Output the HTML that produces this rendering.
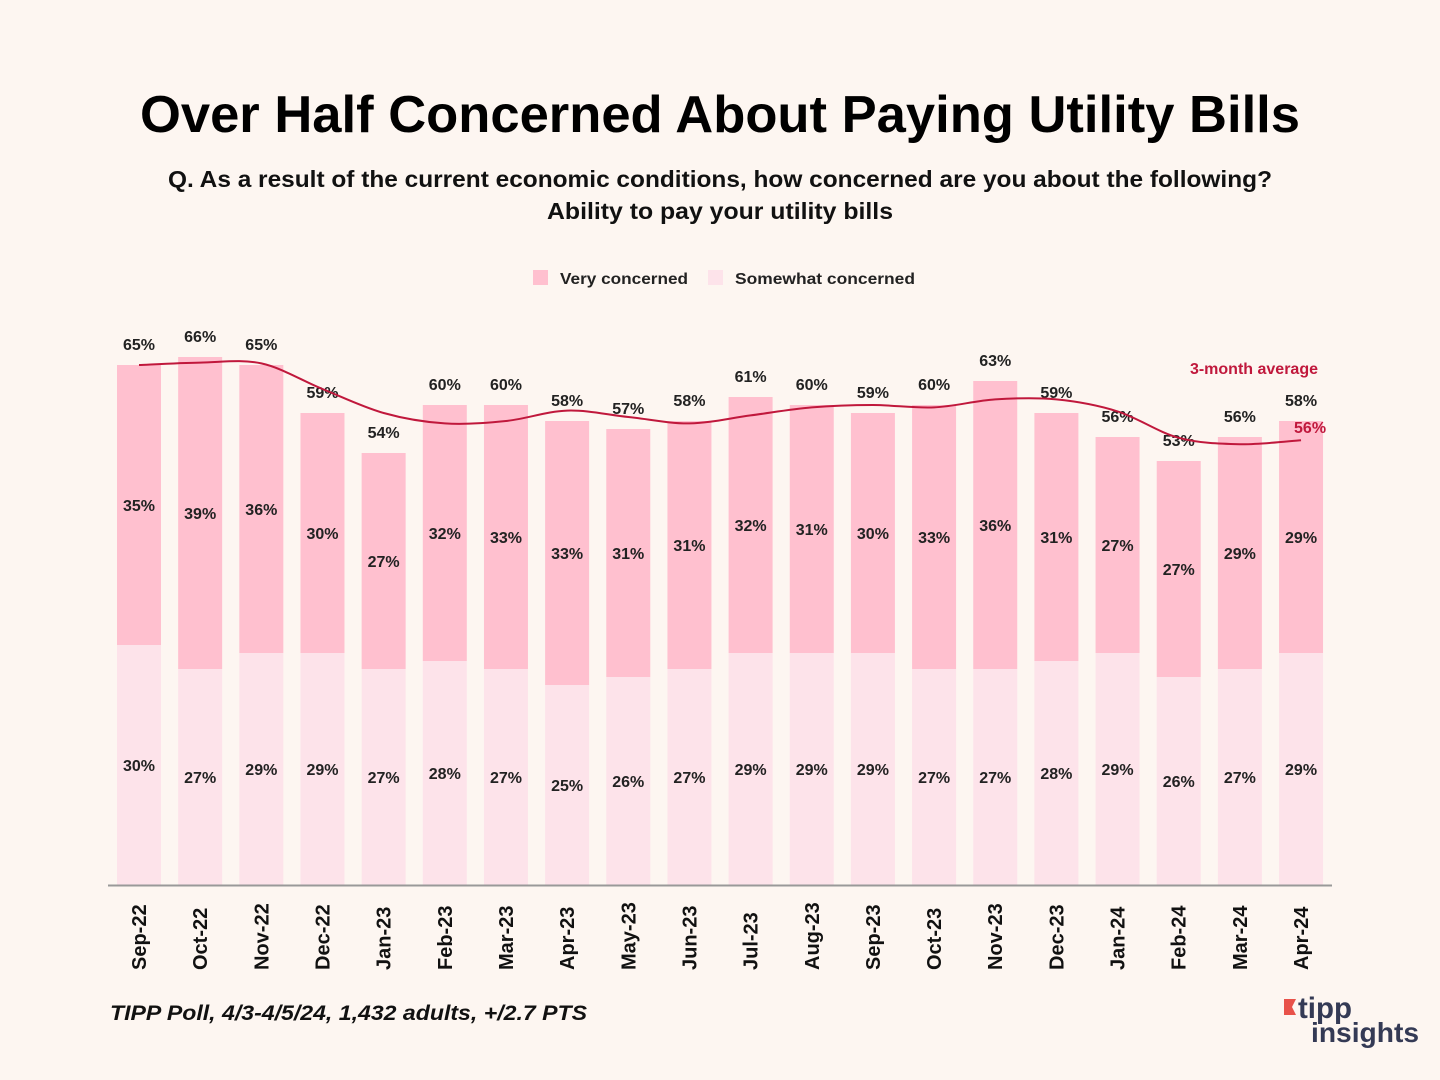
<!DOCTYPE html>
<html><head><meta charset="utf-8"><style>
body{margin:0;background:#fdf6f1;font-family:"Liberation Sans",sans-serif;}
svg{display:block}
</style></head><body>
<svg id="c" width="1440" height="1080" viewBox="0 0 1440 1080">
<rect width="1440" height="1080" fill="#fdf6f1"/>
<text x="720" y="132" text-anchor="middle" font-size="52" font-weight="bold" fill="#000" textLength="1160" lengthAdjust="spacingAndGlyphs">Over Half Concerned About Paying Utility Bills</text>
<text x="720" y="187" text-anchor="middle" font-size="23" font-weight="bold" fill="#111" textLength="1104" lengthAdjust="spacingAndGlyphs">Q. As a result of the current economic conditions, how concerned are you about the following?</text>
<text x="720" y="219" text-anchor="middle" font-size="23" font-weight="bold" fill="#111" textLength="346" lengthAdjust="spacingAndGlyphs">Ability to pay your utility bills</text>
<g>
<rect x="533" y="270" width="15" height="15" fill="#ffc0cf"/>
<text x="560" y="284" font-size="16" font-weight="bold" fill="#222" textLength="128" lengthAdjust="spacingAndGlyphs">Very concerned</text>
<rect x="708" y="270" width="15" height="15" fill="#fde3ea"/>
<text x="735" y="284" font-size="16" font-weight="bold" fill="#222" textLength="180" lengthAdjust="spacingAndGlyphs">Somewhat concerned</text>
</g>
<g id="bars"></g>
<line x1="108" y1="885.5" x2="1332" y2="885.5" stroke="#999" stroke-width="2"/>
<text x="1318" y="374" text-anchor="end" font-size="16" font-weight="bold" fill="#c0183c">3-month average</text>
<text x="110" y="1020" font-size="21" font-style="italic" font-weight="bold" fill="#111" textLength="477" lengthAdjust="spacingAndGlyphs">TIPP Poll, 4/3-4/5/24, 1,432 adults, +/2.7 PTS</text>
<g>
<polygon points="1284,999 1296,999 1292,1007 1296,1015 1284,1015" fill="#e8524a"/>
<text x="1298" y="1018" font-size="30" font-weight="bold" fill="#343a55" textLength="54" lengthAdjust="spacingAndGlyphs">tipp</text>
<text x="1311" y="1042" font-size="28" font-weight="bold" fill="#343a55" textLength="108" lengthAdjust="spacingAndGlyphs">insights</text>
</g>
</svg>
<script>
const categories=["Sep-22","Oct-22","Nov-22","Dec-22","Jan-23","Feb-23","Mar-23","Apr-23","May-23","Jun-23","Jul-23","Aug-23","Sep-23","Oct-23","Nov-23","Dec-23","Jan-24","Feb-24","Mar-24","Apr-24"];
const veryValues=[35,39,36,30,27,32,33,33,31,31,32,31,30,33,36,31,27,27,29,29];
const somewhatValues=[30,27,29,29,27,28,27,25,26,27,29,29,29,27,27,28,29,26,27,29];
const totalValues=[65,66,65,59,54,60,60,58,57,58,61,60,59,60,63,59,56,53,56,58];
const avgValues=[65,65.3,65.2,62,59,57.7,58,59.3,58.5,57.7,58.7,59.7,60,59.7,60.7,60.7,59.2,55.9,55.1,55.6];
const NS="http://www.w3.org/2000/svg";
const g=document.getElementById('bars');
const x=i=>139+i*61.16;
const y=v=>885-v*8;
const bw=44;
function mk(t,a){const e=document.createElementNS(NS,t);for(const k in a)e.setAttribute(k,a[k]);return e;}
categories.forEach((c,i)=>{
 const s=somewhatValues[i],v=veryValues[i];
 const r1=mk('rect',{x:x(i)-bw/2,y:y(s),width:bw,height:s*8,fill:'#fde3ea'});
 
 g.appendChild(r1);
 const r2=mk('rect',{x:x(i)-bw/2,y:y(s+v),width:bw,height:v*8,fill:'#ffc0cf'});
 
 g.appendChild(r2);
 const t1=mk('text',{x:x(i),y:(y(0)+y(s))/2+6,'text-anchor':'middle','font-size':16,'font-weight':'bold',fill:'#222'});
 t1.textContent=s+'%';g.appendChild(t1);
 const t2=mk('text',{x:x(i),y:(y(s)+y(s+v))/2+6,'text-anchor':'middle','font-size':16,'font-weight':'bold',fill:'#222'});
 t2.textContent=v+'%';g.appendChild(t2);
 const t3=mk('text',{x:x(i),y:y(totalValues[i])-15,'text-anchor':'middle','font-size':16,'font-weight':'bold',fill:'#222'});
 t3.textContent=totalValues[i]+'%';g.appendChild(t3);
 const tx=mk('text',{transform:`translate(${x(i)+7},970) rotate(-90)`,'font-size':20,'font-weight':'bold',fill:'#111'});
 tx.textContent=c;g.appendChild(tx);
});
const pts=avgValues.map((v,i)=>[x(i),y(v)]);
let d='M'+pts[0][0]+','+pts[0][1];
for(let i=0;i<pts.length-1;i++){
 const p0=pts[Math.max(i-1,0)],p1=pts[i],p2=pts[i+1],p3=pts[Math.min(i+2,pts.length-1)];
 d+=` C${p1[0]+(p2[0]-p0[0])/6},${p1[1]+(p2[1]-p0[1])/6} ${p2[0]-(p3[0]-p1[0])/6},${p2[1]-(p3[1]-p1[1])/6} ${p2[0]},${p2[1]}`;
}
const ln=mk('path',{d:d,fill:'none',stroke:'#c0183c','stroke-width':2});
g.appendChild(ln);
const last=avgValues.length-1;
const al=mk('text',{x:x(last)-7,y:y(avgValues[last])-7,'font-size':16,'font-weight':'bold',fill:'#c0183c'});
al.textContent=Math.round(avgValues[last])+'%';
g.appendChild(al);
</script>
</body></html>
